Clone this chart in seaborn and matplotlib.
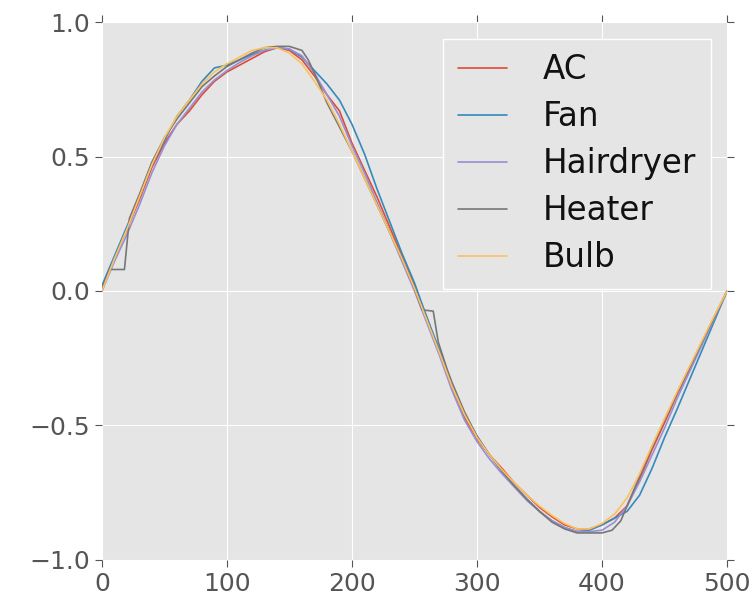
import pandas as pd
import matplotlib
matplotlib.use("Agg")
import matplotlib.pyplot as plt
import seaborn as sns

# sample positions (shared grid) and readings per device
x = list(range(0, 510, 10))

ac = [0.01, 0.12, 0.23, 0.34, 0.46, 0.55, 0.62, 0.67, 0.73, 0.78,
      0.815, 0.84, 0.865, 0.89, 0.905, 0.895, 0.86, 0.80, 0.73, 0.67,
      0.55, 0.45, 0.35, 0.24, 0.13, 0.02, -0.10, -0.23, -0.36, -0.47,
      -0.55, -0.61, -0.66, -0.715, -0.76, -0.805, -0.84, -0.87, -0.885, -0.885,
      -0.87, -0.845, -0.80, -0.70, -0.59, -0.49, -0.385, -0.29, -0.19, -0.095, 0.0]

fan = [0.02, 0.13, 0.24, 0.35, 0.47, 0.56, 0.65, 0.71, 0.78, 0.83,
       0.84, 0.86, 0.88, 0.895, 0.905, 0.90, 0.87, 0.82, 0.77, 0.71,
       0.62, 0.51, 0.38, 0.26, 0.14, 0.03, -0.10, -0.22, -0.35, -0.46,
       -0.54, -0.61, -0.67, -0.725, -0.775, -0.82, -0.855, -0.88, -0.895, -0.89,
       -0.87, -0.845, -0.82, -0.76, -0.66, -0.545, -0.44, -0.33, -0.22, -0.11, 0.0]

hairdryer = [0.0, 0.11, 0.21, 0.32, 0.44, 0.54, 0.62, 0.68, 0.74, 0.785,
             0.82, 0.85, 0.875, 0.895, 0.905, 0.90, 0.875, 0.81, 0.73, 0.65,
             0.54, 0.44, 0.33, 0.22, 0.11, 0.0, -0.12, -0.24, -0.37, -0.48,
             -0.56, -0.625, -0.68, -0.73, -0.78, -0.82, -0.855, -0.88, -0.895, -0.895,
             -0.89, -0.86, -0.80, -0.71, -0.61, -0.51, -0.40, -0.30, -0.20, -0.10, 0.0]

bulb = [0.0, 0.12, 0.23, 0.35, 0.47, 0.57, 0.65, 0.71, 0.77, 0.815,
        0.845, 0.87, 0.895, 0.905, 0.905, 0.885, 0.845, 0.78, 0.71, 0.62,
        0.52, 0.42, 0.32, 0.22, 0.12, 0.01, -0.11, -0.23, -0.355, -0.46,
        -0.545, -0.61, -0.665, -0.715, -0.76, -0.80, -0.835, -0.865, -0.885, -0.885,
        -0.865, -0.83, -0.77, -0.68, -0.575, -0.475, -0.375, -0.28, -0.185, -0.09, 0.0]

# heater has flat steps near the zero crossings, so it gets its own positions
heater_x = [0, 6, 18, 22, 30, 40, 50, 60, 70, 80, 90, 100, 110, 120, 130, 140,
            150, 160, 165, 170, 180, 190, 200, 210, 220, 230, 240, 250, 256, 265,
            269, 276, 280, 290, 300, 310, 320, 330, 340, 350, 360, 370, 380, 390,
            400, 408, 415, 420, 430, 440, 450, 460, 470, 480, 490, 500]
heater = [0.0, 0.08, 0.08, 0.27, 0.36, 0.48, 0.57, 0.64, 0.70, 0.76, 0.80, 0.835,
          0.86, 0.885, 0.905, 0.91, 0.91, 0.895, 0.86, 0.81, 0.70, 0.61, 0.52,
          0.42, 0.32, 0.22, 0.12, 0.01, -0.07, -0.075, -0.19, -0.29, -0.34, -0.45,
          -0.54, -0.61, -0.67, -0.725, -0.775, -0.82, -0.86, -0.885, -0.90, -0.90,
          -0.90, -0.89, -0.855, -0.80, -0.69, -0.58, -0.48, -0.38, -0.285, -0.19,
          -0.095, 0.0]

labels = ["AC", "Fan", "Hairdryer", "Heater", "Bulb"]
colors = ["#E24A33", "#348ABD", "#988ED5", "#777777", "#FBC15E"]

frames = []
for name, xs, ys in [("AC", x, ac), ("Fan", x, fan), ("Hairdryer", x, hairdryer),
                     ("Heater", heater_x, heater), ("Bulb", x, bulb)]:
    frames.append(pd.DataFrame({"x": xs, "y": ys, "device": name}))
df = pd.concat(frames, ignore_index=True)

sns.set_style("darkgrid", {"axes.facecolor": "#E5E5E5", "grid.color": "white",
                           "axes.edgecolor": "white"})
plt.rcParams["font.family"] = ["DejaVu Sans"]

fig = plt.figure(figsize=(7.55, 6), dpi=100)
ax = fig.add_axes([0.135, 0.067, 0.828, 0.896])

sns.lineplot(data=df, x="x", y="y", hue="device", hue_order=labels,
             palette=colors, linewidth=1.2, sort=False, estimator=None, ax=ax)

ax.set_xlim(0, 500)
ax.set_ylim(-1.0, 1.0)
ax.set_xticks([0, 100, 200, 300, 400, 500])
ax.set_yticks([-1.0, -0.5, 0.0, 0.5, 1.0])
ax.set_yticklabels(["\u22121.0", "\u22120.5", "0.0", "0.5", "1.0"])
ax.set_xlabel("")
ax.set_ylabel("")
ax.tick_params(axis="both", which="both", direction="out", length=5, width=0.8,
               color="#555555", labelcolor="#555555", labelsize=18,
               top=True, right=True, bottom=True, left=True)
for s in ax.spines.values():
    s.set_visible(False)

leg = ax.legend(loc="upper right", fontsize=23.5, handlelength=1.5,
                handletextpad=1.1, labelspacing=0.43, borderpad=0.45,
                fancybox=False, facecolor="#E5E5E5", edgecolor="white",
                framealpha=1.0)
leg.get_frame().set_linewidth(1.0)
for t in leg.get_texts():
    t.set_color("#111111")

fig.savefig("out.png", dpi=100)
